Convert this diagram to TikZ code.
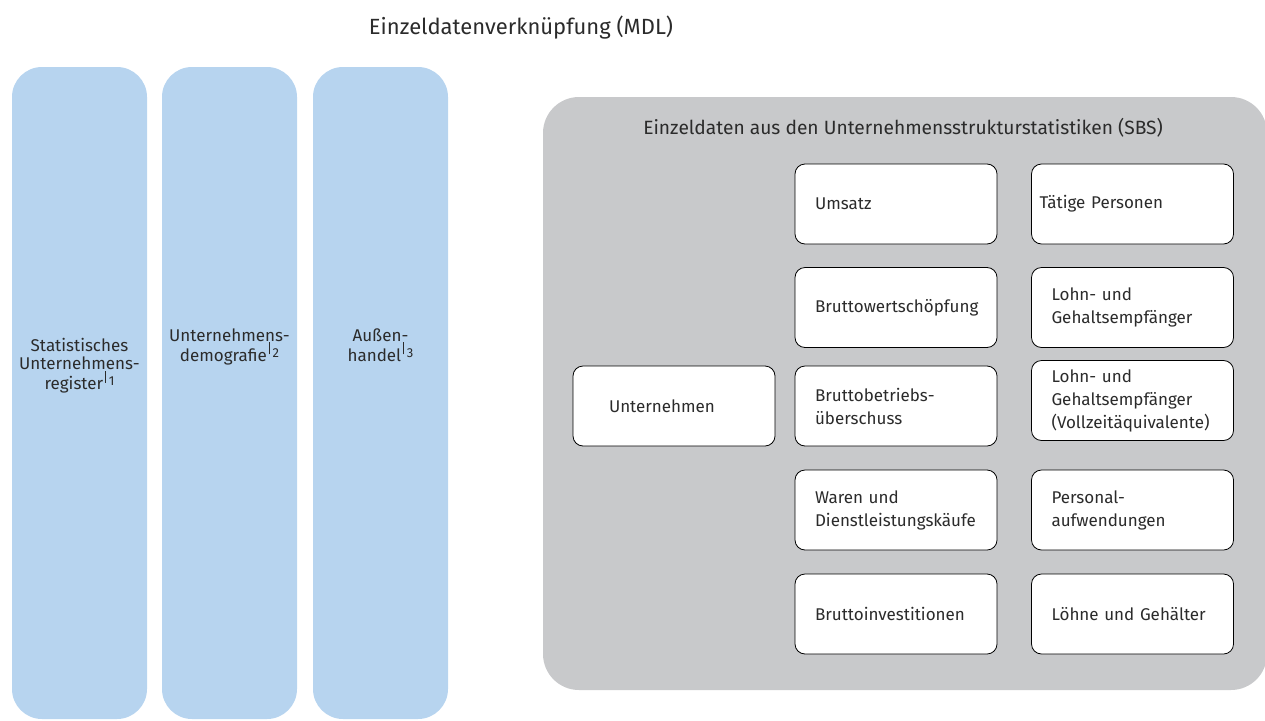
\documentclass[tikz,border=0pt]{standalone}
\usepackage{fontspec}
\setmainfont{Fira Sans}
\usepackage{xcolor}
\usetikzlibrary{positioning}

\definecolor{pillarblue}{HTML}{B7D4EF}
\definecolor{panelgray}{HTML}{C8C9CB}
\definecolor{inkgray}{HTML}{2B2B2B}

\newcommand{\fnref}[1]{\hspace{2pt}\raisebox{7pt}{\rule{0.7pt}{12pt}}\hspace{3pt}\raisebox{4pt}{\fontsize{13}{13}\selectfont #1}}

\begin{document}
\begin{tikzpicture}[
    x=1pt, y=-1pt,
    every node/.style={text=inkgray},
    title/.style={font=\fontsize{22}{26}\selectfont},
    pillar/.style={rectangle, rounded corners=30pt, fill=pillarblue, minimum width=135pt, minimum height=652pt, inner sep=0pt},
    pillarlabel/.style={align=center, anchor=north, font=\fontsize{17}{17.5}\selectfont},
    panel/.style={rectangle, rounded corners=36pt, fill=panelgray, minimum width=724pt, minimum height=593pt, inner sep=0pt},
    cell/.style={rectangle, draw=black, line width=0.8pt, rounded corners=10pt, fill=white, minimum width=202pt, minimum height=80pt, text width=162pt, inner xsep=20pt, align=left, font=\fontsize{17}{23}\selectfont}
]
\useasboundingbox (0,0) rectangle (1265,720);

% Header
\node[title] (mdl) at (521,28) {Einzeldatenverknüpfung (MDL)};

% Pillars
\node[pillar] (p1) at (79.5,393) {};
\node[pillar] (p2) at (229.5,393) {};
\node[pillar] (p3) at (380.5,393) {};
\node[pillarlabel] (l1) at (79.5,335) {Statistisches\\Unternehmens-\\register\fnref{1}};
\node[pillarlabel] (l2) at (229.5,325) {Unternehmens-\\demografie\fnref{2}};
\node[pillarlabel] (l3) at (380.5,325) {Außen-\\handel\fnref{3}};

% SBS panel
\node[panel] (sbs) at (905,393.5) {};
\node[title, font=\fontsize{19.2}{23}\selectfont] (sbstitle) at (903,128) {Einzeldaten aus den Unternehmensstrukturstatistiken (SBS)};

% Unit
\node[cell, text width=130pt, inner xsep=36pt] (unit) at (674,406) {Unternehmen};

% Column 1
\node[cell] (c11) at (896,204) {Umsatz};
\node[cell] (c12) at (896,307.5) {Bruttowertschöpfung};
\node[cell] (c13) at (896,406) {Bruttobetriebs-\\überschuss};
\node[cell] (c14) at (896,510) {Waren und\\Dienstleistungskäufe};
\node[cell] (c15) at (896,614) {Bruttoinvestitionen};

% Column 2
\node[cell, text width=186pt, inner xsep=8pt] (c21) at (1132.5,204) {Tätige Personen\\[6pt]};
\node[cell] (c22) at (1132.5,307.5) {Lohn- und\\Gehaltsempfänger};
\node[cell] (c23) at (1132.5,400.5) {Lohn- und\\Gehaltsempfänger\\(Vollzeitäquivalente)};
\node[cell] (c24) at (1132.5,510) {Personal-\\aufwendungen};
\node[cell] (c25) at (1132.5,614) {Löhne und Gehälter\\[8pt]};

\end{tikzpicture}
\end{document}
